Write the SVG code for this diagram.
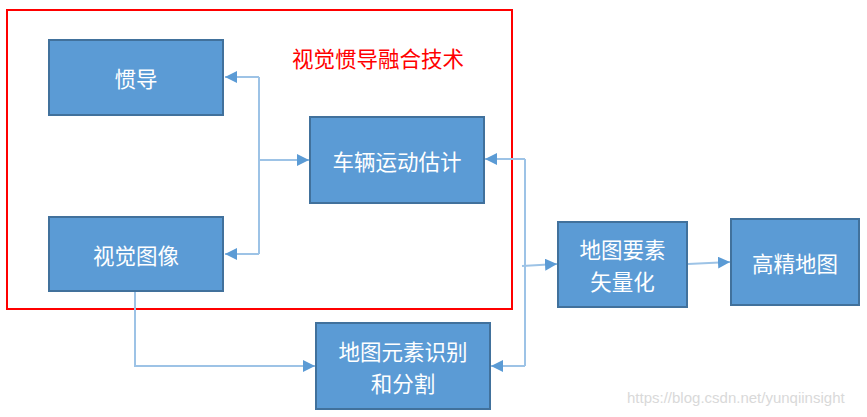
<svg xmlns="http://www.w3.org/2000/svg" width="867" height="417" viewBox="0 0 867 417">
<defs>
<style>
.node rect{fill:#5B9BD5;stroke:#41719C;stroke-width:2}
.node text{fill:#FFFFFF;font-family:"Noto Sans CJK SC","Noto Sans",sans-serif;font-size:21.5px;text-anchor:middle;dominant-baseline:central}
.conn{fill:none;stroke:#9DC3E6;stroke-width:2}
.title{fill:#FF0000;font-family:"Noto Sans CJK SC","Noto Sans",sans-serif;font-size:21.5px;dominant-baseline:central}
.wm{fill:#D9D9D9;font-family:"Liberation Sans",Arial,sans-serif;font-size:15px}
</style>
<marker id="arr" viewBox="0 0 10 10" refX="10" refY="5" markerWidth="6" markerHeight="6" orient="auto" markerUnits="strokeWidth">
<path d="M0,0 L10,5 L0,10 z" fill="#5B9BD5"/>
</marker>
</defs>
<rect width="867" height="417" fill="#FFFFFF"/>
<g id="group-fusion">
<rect x="7" y="10" width="505" height="299" fill="none" stroke="#FF0000" stroke-width="2"/>
<text class="title" x="292" y="57">视觉惯导融合技术</text>
</g>
<g id="connectors">
<path class="conn" d="M259,77 L259,254"/>
<path class="conn" d="M259,77 L225,77" marker-end="url(#arr)"/>
<path class="conn" d="M259,254 L225,254" marker-end="url(#arr)"/>
<path class="conn" d="M259,160 L309,160" marker-end="url(#arr)"/>
<path class="conn" d="M525,159 L525,366"/>
<path class="conn" d="M525,159 L485,159" marker-end="url(#arr)"/>
<path class="conn" d="M525,366 L491,366" marker-end="url(#arr)"/>
<path class="conn" d="M522,266 L557,264" marker-end="url(#arr)"/>
<path class="conn" d="M135,292 L135,366 L315,366" marker-end="url(#arr)"/>
<path class="conn" d="M688,264 L730,262" marker-end="url(#arr)"/>
</g>
<g id="node-inertial" class="node">
<rect x="49" y="40" width="174" height="75"/>
<text x="136" y="77.5">惯导</text>
</g>
<g id="node-visual" class="node">
<rect x="49" y="217" width="174" height="74"/>
<text x="136" y="254">视觉图像</text>
</g>
<g id="node-motion" class="node">
<rect x="310" y="117" width="174" height="86"/>
<text x="397" y="160">车辆运动估计</text>
</g>
<g id="node-recog" class="node">
<rect x="316" y="323" width="174" height="86"/>
<text x="403" y="350">地图元素识别</text>
<text x="403" y="382">和分割</text>
</g>
<g id="node-vector" class="node">
<rect x="558" y="222" width="129" height="85"/>
<text x="622.5" y="248">地图要素</text>
<text x="622.5" y="280">矢量化</text>
</g>
<g id="node-hdmap" class="node">
<rect x="731" y="219" width="128" height="86"/>
<text x="795" y="262">高精地图</text>
</g>
<text class="wm" x="627" y="403">https://blog.csdn.net/yunqiinsight</text>
</svg>
